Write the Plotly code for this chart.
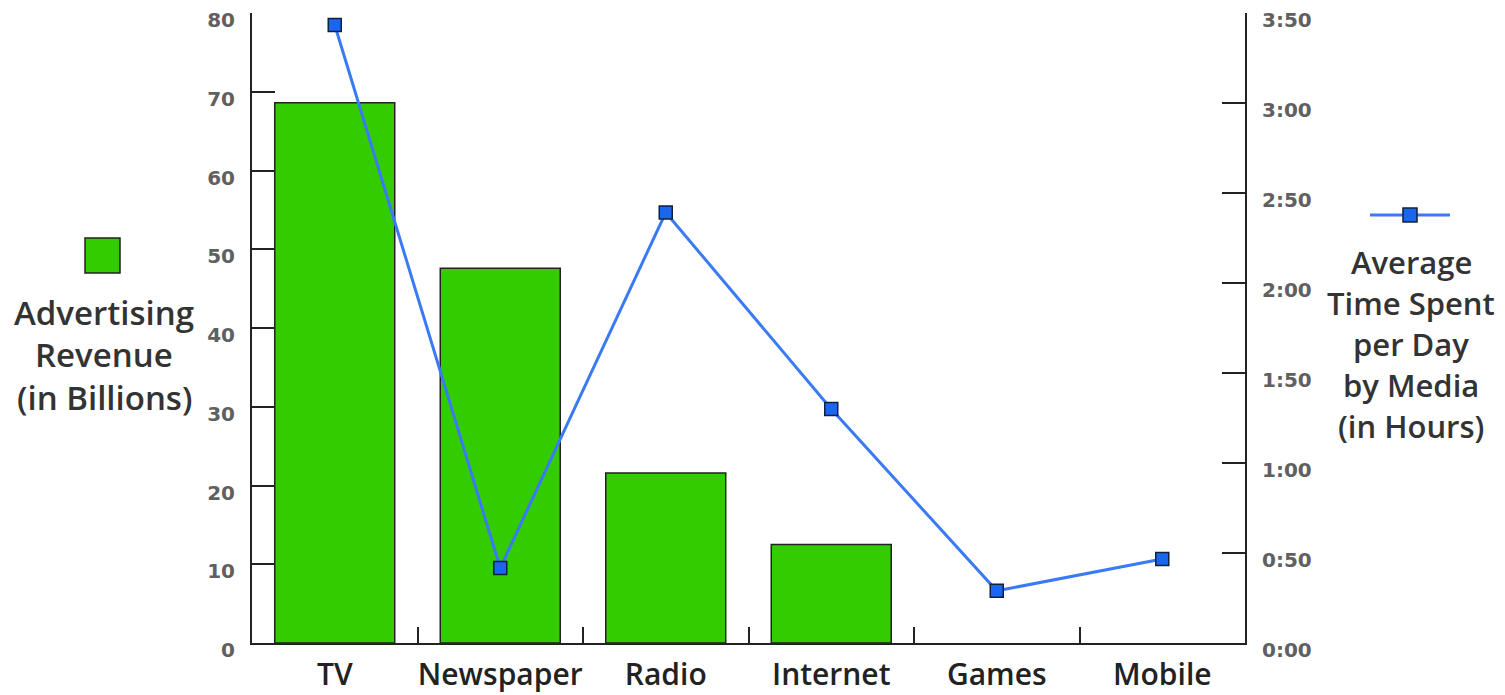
import plotly.graph_objects as go

categories = ["TV", "Newspaper", "Radio", "Internet", "Games", "Mobile"]
ad_revenue_billions = [68.6, 47.6, 21.6, 12.5, None, None]
time_spent_minutes = [206, 25, 143.5, 78, 17.4, 28]
left_tick_vals = [0, 10, 20, 30, 40, 50, 60, 70, 80]
right_tick_vals = [0, 30, 60, 90, 120, 150, 180, 210]
right_tick_text = ["0:00", "0:50", "1:00", "1:50", "2:00", "2:50", "3:00", "3:50"]
left_legend_lines = ["Advertising", "Revenue", "(in Billions)"]
right_legend_lines = ["Average", "Time Spent", "per Day", "by Media", "(in Hours)"]

GREEN = "#33cc00"
BLUE_LINE = "#3a7af5"
BLUE_MARK = "#1a66ee"
DARK = "#222222"
FONT = "Open Sans"
TICK_FONT = "DejaVu Sans"

W, H = 1505, 695
L, R, T, B = 252, 260, 13, 52
PW, PH = W - L - R, H - T - B


def px_x(x):
    return (x - L) / PW


def px_y(y):
    return (H - B - y) / PH


fig = go.Figure()
fig.add_trace(go.Bar(
    x=categories, y=ad_revenue_billions, width=0.725,
    marker=dict(color=GREEN, line=dict(color=DARK, width=1.5)),
    showlegend=False,
))
fig.add_trace(go.Scatter(
    x=categories, y=time_spent_minutes, yaxis="y2", mode="lines+markers",
    line=dict(color=BLUE_LINE, width=3),
    marker=dict(symbol="square", size=13, color=BLUE_MARK, line=dict(color="#102040", width=1.5)),
    showlegend=False,
))

axis_common = dict(showline=True, linecolor=DARK, linewidth=2, showgrid=False, zeroline=False,
                   ticks="inside", tickcolor=DARK, tickwidth=2, automargin=False)
num_font = dict(size=20, color="#606060", family=TICK_FONT, weight="bold")

fig.update_layout(
    width=W, height=H,
    margin=dict(l=L, r=R, t=T, b=B),
    plot_bgcolor="white", paper_bgcolor="white",
    font=dict(family=FONT, color="#333333"),
    xaxis=dict(type="category", range=[-0.5, 5.5], tickson="boundaries", ticklen=16,
               tickangle=0,
               tickfont=dict(size=30, color=DARK, family=FONT, weight=600),
               ticklabelstandoff=4, **axis_common),
    yaxis=dict(range=[0, 80], tickvals=left_tick_vals, ticklen=23,
               tickfont=num_font, ticklabelstandoff=11, ticklabelshift=7,
               ticklabeloverflow="allow", **axis_common),
    yaxis2=dict(range=[0, 210], tickvals=right_tick_vals, ticktext=right_tick_text,
                overlaying="y", side="right", ticklen=23,
                tickfont=num_font, ticklabelstandoff=11, ticklabelshift=7,
                ticklabeloverflow="allow", **axis_common),
)

# Left legend key
fig.add_shape(type="rect", xref="paper", yref="paper",
              x0=px_x(85), x1=px_x(120), y0=px_y(273), y1=px_y(238),
              fillcolor=GREEN, line=dict(color=DARK, width=1.5))
for i, line in enumerate(left_legend_lines):
    fig.add_annotation(text=line, xref="paper", yref="paper", x=px_x(104), y=px_y(312 + 42.5 * i),
                       xanchor="center", yanchor="middle", showarrow=False,
                       font=dict(size=33, color="#333333", family=FONT, weight=600))

# Right legend key
fig.add_shape(type="line", xref="paper", yref="paper",
              x0=px_x(1370), x1=px_x(1450), y0=px_y(215), y1=px_y(215),
              line=dict(color=BLUE_LINE, width=3))
fig.add_shape(type="rect", xref="paper", yref="paper",
              x0=px_x(1403), x1=px_x(1417), y0=px_y(222), y1=px_y(208),
              fillcolor=BLUE_MARK, line=dict(color="#102040", width=1.5))
for i, line in enumerate(right_legend_lines):
    fig.add_annotation(text=line, xref="paper", yref="paper", x=px_x(1411), y=px_y(262 + 41 * i),
                       xanchor="center", yanchor="middle", showarrow=False,
                       font=dict(size=31, color="#333333", family=FONT, weight=600))

fig.write_html("out.html", post_script="document.body.style.margin='0';",
               config={"displayModeBar": False})
